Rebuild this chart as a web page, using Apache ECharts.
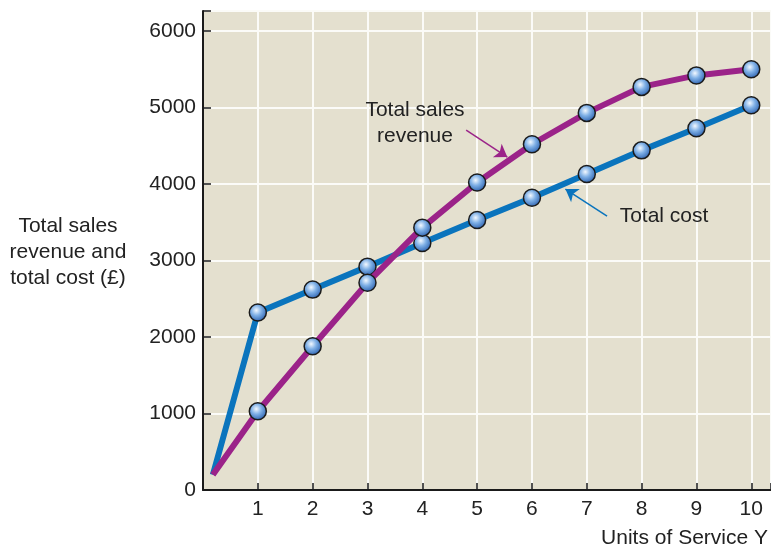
<!DOCTYPE html>
<html>
<head>
<meta charset="utf-8">
<script src="https://cdn.jsdelivr.net/npm/echarts@6/dist/echarts.min.js"></script>
<style>
  html, body { margin: 0; padding: 0; background: #ffffff; }
  #chart { width: 771px; height: 548px; }
</style>
</head>
<body>
<div id="chart"></div>
<script>
// Units of Service Y (the first point is the shared starting point near the origin)
const units = [0.18, 1, 2, 3, 4, 5, 6, 7, 8, 9, 10];
const totalRevenue = [200, 1030, 1880, 2710, 3430, 4020, 4520, 4930, 5270, 5420, 5500];
const totalCost    = [200, 2320, 2620, 2920, 3230, 3530, 3820, 4130, 4440, 4730, 5030];
const xTicks = [1, 2, 3, 4, 5, 6, 7, 8, 9, 10];
const yTicks = [0, 1000, 2000, 3000, 4000, 5000, 6000];

// Arrow annotations, in data units: [start, end]
const revenueArrow = [[4.8, 4706], [5.55, 4353]];
const costArrow = [[7.37, 3581], [6.61, 3934]];

const FONT = 'Liberation Sans, Arial, Helvetica, sans-serif';
const FS = 21;
const BLUE = '#0a74bd';
const PURPLE = '#9b2389';

const ball = {
  type: 'radial', x: 0.42, y: 0.38, r: 0.62,
  colorStops: [
    { offset: 0, color: '#f2f8ff' },
    { offset: 0.45, color: '#7fb0e6' },
    { offset: 1, color: '#2e63b0' }
  ]
};

function pts(ys) {
  return units.map((u, i) => ({
    value: [u, ys[i]],
    symbol: i === 0 ? 'none' : 'circle'
  }));
}

function arrow(seg, color) {
  return {
    silent: true,
    symbol: ['none', 'arrow'],
    symbolSize: 12,
    label: { show: false },
    emphasis: { disabled: true },
    lineStyle: { color: color, width: 1.5, type: 'solid' },
    data: [[{ coord: seg[0] }, { coord: seg[1] }]]
  };
}

function text(x, y, str, align) {
  return {
    type: 'text', x: x, y: y, z: 10,
    style: { text: str, fill: '#222', font: FS + 'px ' + FONT, align: align || 'center', verticalAlign: 'middle', lineHeight: 26 }
  };
}

const chart = echarts.init(document.getElementById('chart'));
chart.setOption({
  animation: false,
  backgroundColor: '#ffffff',
  grid: {
    left: 203, right: 0, top: 11, bottom: 58,
    outerBoundsMode: 'none', containLabel: false,
    show: true, backgroundColor: '#e4e0cf', borderWidth: 0
  },
  xAxis: {
    type: 'value', min: 0, max: 10.36, interval: 1,
    axisLine: { show: true, onZero: false, lineStyle: { color: '#1a1a1a', width: 2 } },
    axisTick: { show: true, inside: true, length: 7, lineStyle: { color: '#1a1a1a', width: 1.5 } },
    splitLine: { show: true, lineStyle: { color: '#fbfbf8', width: 2 } },
    axisLabel: {
      color: '#222', fontFamily: FONT, fontSize: FS, margin: 9,
      formatter: v => xTicks.includes(v) ? String(v) : ''
    }
  },
  yAxis: {
    type: 'value', min: 0, max: 6262, interval: 1000,
    axisLine: { show: true, onZero: false, lineStyle: { color: '#1a1a1a', width: 2 } },
    axisTick: { show: true, inside: true, length: 8, lineStyle: { color: '#1a1a1a', width: 1.5 } },
    splitLine: { show: true, lineStyle: { color: '#fbfbf8', width: 2 } },
    axisLabel: {
      color: '#222', fontFamily: FONT, fontSize: FS, margin: 7,
      formatter: v => yTicks.includes(v) ? String(v) : ''
    }
  },
  graphic: [
    text(68, 252, 'Total sales\nrevenue and\ntotal cost (£)'),
    text(415, 110, 'Total sales'),
    text(415, 136, 'revenue'),
    text(664, 216, 'Total cost'),
    text(768, 538, 'Units of Service Y', 'right')
  ],
  series: [
    {
      name: 'Total sales revenue', type: 'line', data: pts(totalRevenue),
      lineStyle: { color: PURPLE, width: 6 },
      itemStyle: { color: ball, borderColor: '#1b1b1b', borderWidth: 1.5 },
      symbolSize: 17, z: 3,
      markLine: arrow(revenueArrow, PURPLE)
    },
    {
      name: 'Total cost', type: 'line', data: pts(totalCost),
      lineStyle: { color: BLUE, width: 6 },
      itemStyle: { color: ball, borderColor: '#1b1b1b', borderWidth: 1.5 },
      symbolSize: 17, z: 2,
      markLine: arrow(costArrow, BLUE)
    }
  ]
});
</script>
</body>
</html>
